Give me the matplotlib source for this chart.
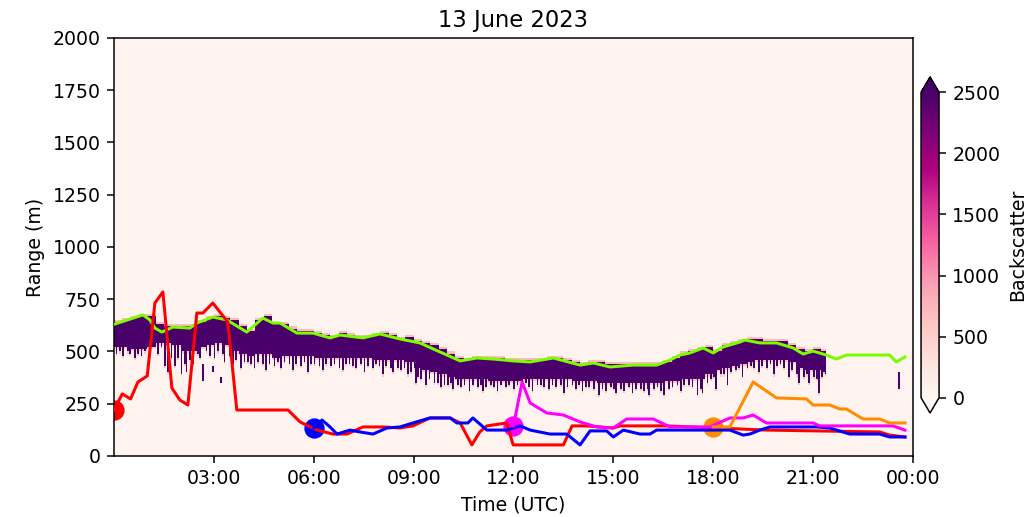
import numpy as np
import matplotlib
matplotlib.use("Agg")
import matplotlib.pyplot as plt

# ---------------------------------------------------------------------------
# Ceilometer backscatter, 13 June 2023
# ---------------------------------------------------------------------------
title = "13 June 2023"

# Cloud layer seen by the ceilometer, one value per quarter hour from 00:00
layer_step_h = 0.25
layer_top_m = [637, 647, 657, 672, 667, 632, 617, 622, 622, 622, 642, 657,
               672, 662, 647, 617, 602, 647, 672, 632, 627, 612, 597, 597,
               592, 582, 572, 587, 577, 572, 572, 582, 587, 577, 564, 567,
               552, 542, 527, 507, 487, 467, 464, 474, 472, 468, 468, 464,
               462, 458, 456, 464, 472, 474, 462, 447, 442, 452, 447, 435,
               435, 439, 442, 442, 442, 442, 452, 466, 485, 499, 512, 522,
               502, 527, 537, 552, 562, 555, 548, 548, 545, 532, 507, 499,
               509, 499]
layer_base_m = [525, 520, 515, 515, 525, 540, 545, 535, 500, 500, 520, 535,
                540, 530, 505, 490, 480, 490, 490, 475, 480, 480, 480, 478,
                475, 472, 470, 472, 470, 472, 468, 465, 465, 460, 458, 450,
                425, 415, 405, 390, 380, 375, 372, 368, 368, 365, 365, 365,
                365, 368, 370, 372, 372, 372, 368, 362, 360, 360, 355, 355,
                352, 352, 352, 352, 352, 352, 358, 365, 368, 372, 375, 390,
                412, 422, 435, 445, 452, 458, 462, 462, 460, 448, 420, 412,
                408, 402]
layer_end_h = 21.42

# Fall streaks hanging below the layer: (hour, lowest height in m)
streak_hour = [
    0.08, 0.18, 0.30, 0.42, 0.50, 0.62, 0.73, 0.85, 0.95,
    1.08, 1.20, 1.33, 1.45, 1.55, 1.62, 1.72, 1.85, 1.95,
    2.05, 2.12, 2.18, 2.28, 2.40, 2.52, 2.60, 2.78, 2.88,
    3.05, 3.15, 3.27, 3.35, 3.48, 3.60, 3.70, 3.85, 3.93,
    4.05, 4.15, 4.25, 4.35, 4.48, 4.60, 4.70, 4.82, 4.93,
    5.05, 5.15, 5.27, 5.40, 5.50, 5.62, 5.72, 5.85, 5.95,
    6.05, 6.18, 6.30, 6.40, 6.55, 6.65, 6.78, 6.90, 6.97,
    7.08, 7.20, 7.30, 7.42, 7.55, 7.65, 7.78, 7.90, 7.98,
    8.10, 8.20, 8.30, 8.40, 8.52, 8.62, 8.75, 8.85, 8.95,
    9.05, 9.15, 9.25, 9.40, 9.50, 9.62, 9.75, 9.85, 9.95,
    10.05, 10.15, 10.20, 10.32, 10.45, 10.55, 10.70, 10.80, 10.92,
    11.02, 11.10, 11.20, 11.32, 11.42, 11.55, 11.65, 11.78, 11.90,
    12.05, 12.15, 12.28, 12.38, 12.50, 12.60, 12.72, 12.85, 12.95,
    13.10, 13.20, 13.30, 13.42, 13.55, 13.65, 13.78, 13.88, 13.97,
    14.10, 14.20, 14.30, 14.42, 14.60, 14.70, 14.80, 14.92,
    15.02, 15.10, 15.22, 15.35, 15.48, 15.60, 15.70, 15.82, 15.92,
    16.02, 16.10, 16.22, 16.35, 16.45, 16.55, 16.68, 16.80, 16.92,
    17.05, 17.15, 17.28, 17.40, 17.55, 17.62, 17.70, 17.82, 17.92,
    18.05, 18.10, 18.22, 18.35, 18.45, 18.55, 18.68, 18.80, 18.90,
    19.02, 19.12, 19.25, 19.40, 19.50, 19.62, 19.75, 19.85, 19.95,
    20.05, 20.15, 20.30, 20.40, 20.52, 20.60, 20.72, 20.82, 20.90,
    21.02, 21.12, 21.20, 21.30, 21.38]
streak_low_m = [
    495, 505, 480, 500, 490, 470, 495, 485, 500,
    505, 520, 495, 520, 430, 400, 470, 430, 470,
    390, 440, 400, 460, 440, 490, 470, 500, 480,
    470, 500, 490, 455, 480, 440, 460, 425, 450,
    455, 440, 420, 450, 440, 410, 445, 430, 450,
    420, 450, 440, 415, 445, 435, 450, 400, 440,
    445, 430, 415, 440, 430, 445, 425, 410, 440,
    445, 430, 420, 440, 405, 435, 425, 440, 430,
    395, 430, 420, 400, 425, 410, 420, 395, 400,
    350, 380, 370, 340, 370, 355, 350, 330, 345,
    340, 350, 320, 345, 335, 345, 310, 340, 330,
    340, 315, 335, 345, 330, 310, 340, 330, 345,
    320, 345, 335, 350, 335, 315, 340, 345, 330,
    320, 345, 335, 340, 300, 330, 340, 325, 340,
    310, 330, 335, 320, 295, 325, 315, 330,
    320, 305, 325, 315, 330, 300, 320, 325, 315,
    325, 295, 320, 330, 315, 290, 325, 335, 340,
    310, 340, 345, 330, 295, 320, 300, 350, 370,
    380, 320, 390, 395, 345, 400, 410, 420, 380,
    425, 435, 420, 400, 435, 425, 440, 395, 430,
    440, 425, 380, 410, 395, 350, 385, 395, 350,
    385, 375, 300, 380, 390]

# Detached echoes: (start hour, end hour, bottom m, top m)
patch_start_h = [2.65, 2.95, 3.2, 23.55]
patch_end_h = [2.70, 3.00, 3.25, 23.62]
patch_bottom_m = [360, 400, 350, 316]
patch_top_m = [440, 430, 380, 400]

background_value = 60
cloud_value = 3000

# Layer heights from the retrievals (hour, height in m)
green_t = [0.0, 0.87, 1.08, 1.23, 1.44, 1.77, 2.28, 2.49, 2.97, 3.39, 3.99,
           4.47, 4.78, 4.99, 5.5, 5.98, 6.49, 6.79, 7.48, 7.99, 8.59, 9.19,
           9.79, 10.4, 10.9, 11.4, 11.99, 12.5, 13.2, 14.0, 14.4, 14.9, 15.6,
           16.3, 16.7, 17.0, 17.3, 17.7, 18.0, 18.3, 18.8, 18.95, 19.4, 19.9,
           20.4, 20.7, 21.0, 21.4, 21.7, 22.0, 23.3, 23.5, 23.76]
green_h = [630, 675, 651, 612, 593, 617, 612, 636, 665, 651, 593,
           660, 636, 636, 588, 588, 565, 579, 565, 584, 560, 541,
           498, 455, 469, 464, 455, 450, 469, 435, 445, 426, 435,
           435, 459, 483, 493, 517, 493, 522, 545, 555, 541, 541,
           517, 488, 502, 483, 464, 483, 483, 450, 474]

red_t = [0.0, 0.25, 0.5, 0.72, 1.0, 1.23, 1.47, 1.74, 1.98, 2.22, 2.49, 2.67,
         2.97, 3.42, 3.69, 5.23, 5.59, 6.1, 6.58, 7.0, 7.48, 8.08, 8.59, 8.98,
         9.49, 10.1, 10.4, 10.75, 10.99, 11.2, 11.8, 11.99, 13.5, 13.76, 14.2,
         15.0, 15.2, 16.6, 19.6, 23.0, 23.3, 23.76]
red_h = [220, 297, 273, 354, 383, 732, 785, 325, 268, 244, 684, 684,
         732, 641, 220, 220, 163, 124, 105, 105, 139, 139, 134, 144,
         182, 182, 158, 53, 115, 144, 158, 53, 53, 144, 144,
         134, 144, 144, 124, 115, 100, 91]

blue_t = [6.0, 6.25, 6.49, 6.7, 7.09, 7.39, 7.78, 8.2, 8.59, 8.98, 9.49, 10.1,
          10.3, 10.63, 10.78, 11.2, 11.8, 12.2, 12.5, 13.1, 13.6, 14.0, 14.3,
          14.8, 15.0, 15.3, 15.8, 16.1, 16.3, 17.0, 18.5, 18.9, 19.1, 19.4,
          19.7, 21.1, 21.5, 22.1, 23.0, 23.3, 23.76]
blue_h = [134, 172, 139, 105, 124, 115, 105, 134, 139, 158, 182, 182,
          158, 158, 182, 124, 124, 144, 124, 105, 105, 53, 120,
          120, 91, 124, 105, 105, 124, 124, 124, 100, 105, 124,
          139, 139, 134, 105, 105, 91, 91]

magenta_t = [12.0, 12.26, 12.5, 13.0, 13.5, 14.0, 14.5, 15.0, 15.4, 16.2,
             16.7, 17.9, 18.5, 18.9, 19.2, 19.6, 20.6, 21.0, 21.2, 23.4, 23.76]
magenta_h = [144, 354, 254, 206, 196, 163, 139, 134, 177, 177,
             139, 139, 182, 182, 196, 158, 158, 158, 144, 144, 124]

orange_t = [18.0, 18.5, 19.2, 19.9, 20.8, 21.0, 21.5, 21.8, 22.0, 22.5, 23.0,
            23.3, 23.76]
orange_h = [139, 139, 354, 278, 273, 244, 244, 225, 225, 177, 177,
            158, 158]

tick_hours = [3, 6, 9, 12, 15, 18, 21, 24]
tick_labels = ["03:00", "06:00", "09:00", "12:00", "15:00", "18:00", "21:00",
               "00:00"]
range_ticks = [0, 250, 500, 750, 1000, 1250, 1500, 1750, 2000]
cbar_ticks = [0, 500, 1000, 1500, 2000, 2500]

# ---------------------------------------------------------------------------
# Build the time-height backscatter field
# ---------------------------------------------------------------------------
t_edges = np.arange(0.0, 24.0 + 1e-9, 0.05)
z_edges = np.arange(0.0, 2000.0 + 1e-9, 10.0)
t_mid = 0.5 * (t_edges[:-1] + t_edges[1:])
z_mid = 0.5 * (z_edges[:-1] + z_edges[1:])

field = np.full((z_mid.size, t_mid.size), float(background_value))

col_top = np.full(t_mid.size, np.nan)
col_base = np.full(t_mid.size, np.nan)
for j, t in enumerate(t_mid):
    k = int(t // layer_step_h)
    if t < layer_end_h and k < len(layer_top_m):
        col_top[j] = layer_top_m[k]
        col_base[j] = layer_base_m[k]

for th, low in zip(streak_hour, streak_low_m):
    j = int(np.argmin(np.abs(t_mid - th)))
    if not np.isnan(col_base[j]):
        col_base[j] = min(col_base[j], low)

for j in range(t_mid.size):
    if np.isnan(col_top[j]):
        continue
    top, base = col_top[j], col_base[j]
    inside = (z_mid >= base) & (z_mid <= top)
    field[inside, j] = cloud_value
    halo = (z_mid > top) & (z_mid <= top + 10)
    field[halo, j] = 700
    below = (z_mid < base) & (z_mid >= base - 10)
    field[below, j] = 600

for t0, t1, zb, zt in zip(patch_start_h, patch_end_h, patch_bottom_m, patch_top_m):
    cols = (t_mid >= t0) & (t_mid <= t1)
    rows = (z_mid >= zb) & (z_mid <= zt)
    field[np.ix_(rows, cols)] = cloud_value

# ---------------------------------------------------------------------------
# Figure
# ---------------------------------------------------------------------------
dpi = 136
fig = plt.figure(figsize=(1035 / dpi, 517 / dpi), dpi=dpi)
ax = fig.add_axes([0.1101, 0.1180, 0.7720, 0.8085])
cax = fig.add_axes([0.8899, 0.2012, 0.0174, 0.6500])

mesh = ax.pcolormesh(t_edges, z_edges, field, cmap="RdPu", vmin=0, vmax=2500,
                     shading="flat", rasterized=True)

lw = 1.6
ax.plot(green_t, green_h, color="lawngreen", lw=lw, zorder=3)
ax.plot(red_t, red_h, color="red", lw=lw, zorder=3)
ax.plot(blue_t, blue_h, color="blue", lw=lw, zorder=3)
ax.plot(magenta_t, magenta_h, color="magenta", lw=lw, zorder=3)
ax.plot(orange_t, orange_h, color="darkorange", lw=lw, zorder=3)

# first retrieval of each series
ax.scatter([red_t[0]], [red_h[0]], s=95, color="red", zorder=2.5)
ax.scatter([blue_t[0]], [blue_h[0]], s=95, color="blue", zorder=2.5)
ax.scatter([magenta_t[0]], [magenta_h[0]], s=95, color="magenta", zorder=2.5)
ax.scatter([orange_t[0]], [orange_h[0]], s=95, color="darkorange", zorder=2.5)

ax.set_xlim(0, 24)
ax.set_ylim(0, 2000)
ax.set_xticks(tick_hours)
ax.set_xticklabels(tick_labels)
ax.set_yticks(range_ticks)
ax.set_xlabel("Time (UTC)")
ax.set_ylabel("Range (m)")
ax.set_title(title)

cb = fig.colorbar(mesh, cax=cax, extend="both")
cb.set_ticks(cbar_ticks)
cb.set_label("Backscatter")

fig.savefig("out.png", dpi=dpi)
